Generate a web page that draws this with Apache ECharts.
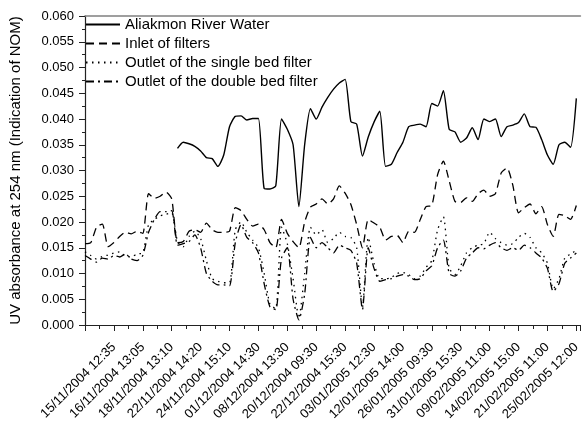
<!DOCTYPE html>
<html>
<head>
<meta charset="utf-8">
<script src="https://cdn.jsdelivr.net/npm/echarts@6/dist/echarts.min.js"></script>
<style>
html,body{margin:0;padding:0;background:#fff;}
#chart{width:583px;height:424px;}
</style>
</head>
<body>
<div id="chart"></div>
<script>
// Tick labels (one every 5 samples)
const xLabels = ["15/11/2004 12:35","16/11/2004 13:05","18/11/2004 13:10","22/11/2004 14:20","24/11/2004 15:10","01/12/2004 14:30","08/12/2004 13:30","20/12/2004 09:30","22/12/2004 15:30","03/01/2005 12:30","12/01/2005 14:00","26/01/2005 09:30","31/01/2005 15:30","09/02/2005 11:00","14/02/2005 15:00","21/02/2005 11:00","25/02/2005 12:00"];
const samplesPerLabel = 5;
const seriesNames = ["Aliakmon River Water","Inlet of filters","Outlet of the single bed filter","Outlet of the double bed filter"];

const riverWater = [null,null,null,null,null,null,null,null,null,null,null,null,null,null,null,null,
0.0343,0.0355,0.0352,0.0347,0.0338,0.0325,0.0323,0.0308,0.0330,0.0385,
0.0405,0.0406,0.0398,0.0401,0.0401,0.0265,0.0264,0.0270,0.0400,0.0380,
0.0350,0.0230,0.0350,0.0420,0.0400,0.0423,0.0442,0.0458,0.0470,0.0477,
0.0395,0.0390,0.0328,0.0365,0.0394,0.0415,0.0308,0.0312,0.0335,0.0355,
0.0385,0.0388,0.0390,0.0385,0.0430,0.0425,0.0455,0.0380,0.0375,0.0355,
0.0363,0.0383,0.0360,0.0400,0.0395,0.0400,0.0366,0.0385,0.0388,0.0393,
0.0410,0.0385,0.0384,0.0360,0.0330,0.0312,0.0350,0.0355,0.0345,0.0440];

const inletFilters = [0.0158,0.0160,0.0190,0.0196,0.0152,0.0160,0.0172,0.0180,0.0177,0.0182,
0.0178,0.0255,0.0246,0.0250,0.0258,0.0245,0.0160,0.0162,0.0182,0.0185,
0.0180,0.0198,0.0185,0.0180,0.0180,0.0182,0.0228,0.0222,0.0205,0.0192,
0.0196,0.0185,0.0160,0.0150,0.0205,0.0178,0.0162,0.0150,0.0200,0.0229,
0.0235,0.0245,0.0235,0.0245,0.0270,0.0256,0.0234,0.0195,0.0150,0.0205,
0.0198,0.0190,0.0165,0.0172,0.0174,0.0160,0.0182,0.0180,0.0205,0.0230,
0.0232,0.0292,0.0318,0.0280,0.0240,0.0238,0.0247,0.0240,0.0255,0.0262,
0.0250,0.0255,0.0295,0.0305,0.0272,0.0218,0.0228,0.0235,0.0216,0.0230,
0.0195,0.0172,0.0215,0.0212,0.0205,0.0232];

const singleBedOutlet = [0.0142,0.0135,0.0128,0.0133,0.0136,0.0140,0.0142,0.0134,0.0132,0.0138,
0.0140,0.0195,0.0205,0.0212,0.0215,0.0218,0.0162,0.0152,0.0172,0.0182,
0.0168,0.0125,0.0090,0.0085,0.0082,0.0082,0.0185,0.0200,0.0180,0.0165,
0.0150,0.0100,0.0040,0.0032,0.0190,0.0158,0.0090,0.0013,0.0100,0.0190,
0.0175,0.0185,0.0160,0.0168,0.0180,0.0172,0.0170,0.0150,0.0035,0.0170,
0.0120,0.0090,0.0090,0.0092,0.0100,0.0102,0.0098,0.0090,0.0095,0.0112,
0.0125,0.0185,0.0210,0.0110,0.0098,0.0115,0.0140,0.0150,0.0155,0.0158,
0.0180,0.0168,0.0160,0.0155,0.0158,0.0170,0.0178,0.0170,0.0150,0.0140,
0.0120,0.0070,0.0090,0.0130,0.0138,0.0145];

const doubleBedOutlet = [0.0135,0.0128,0.0122,0.0130,0.0128,0.0135,0.0132,0.0138,0.0128,0.0125,
0.0135,0.0180,0.0205,0.0220,0.0220,0.0222,0.0155,0.0158,0.0162,0.0175,
0.0150,0.0100,0.0085,0.0078,0.0078,0.0076,0.0160,0.0195,0.0170,0.0160,
0.0140,0.0080,0.0035,0.0030,0.0130,0.0150,0.0050,0.0010,0.0060,0.0170,
0.0150,0.0160,0.0150,0.0140,0.0155,0.0150,0.0145,0.0120,0.0030,0.0150,
0.0110,0.0085,0.0088,0.0090,0.0095,0.0098,0.0095,0.0088,0.0090,0.0105,
0.0115,0.0150,0.0165,0.0100,0.0095,0.0105,0.0130,0.0140,0.0150,0.0148,
0.0155,0.0160,0.0150,0.0145,0.0150,0.0145,0.0155,0.0150,0.0140,0.0130,
0.0110,0.0065,0.0080,0.0120,0.0130,0.0140];

const yTicks = {min:0, max:0.06, interval:0.005};

function toPairs(arr){ return arr.map((v,i)=>[i/samplesPerLabel, v]); }

const FONT = "'Liberation Sans', Arial, sans-serif";
const chart = echarts.init(document.getElementById('chart'), null, {renderer:'canvas'});
const lineStyles = [
  {type:'solid', width:1.4},
  {type:[8,5], width:1.3},
  {type:[1.5,4.5], width:1.3},
  {type:[8,4,2,4], width:1.3}
];
const allData = [riverWater, inletFilters, singleBedOutlet, doubleBedOutlet];

chart.setOption({
  animation:false,
  backgroundColor:'#fff',
  grid:{left:79, right:0, top:16, bottom:99, show:false},
  legend:{
    orient:'vertical', left:85, top:17, padding:0,
    itemWidth:34, itemHeight:12, itemGap:4,
    itemStyle:{color:'rgba(0,0,0,0)', borderColor:'rgba(0,0,0,0)', borderWidth:0, opacity:0},
    textStyle:{fontFamily:FONT, fontSize:15, color:'#000'},
    data:seriesNames
  },
  xAxis:[{
    type:'value', min:0, max:17.14, interval:1,
    axisLine:{show:true, onZero:false, lineStyle:{color:'#222', width:1.2}},
    axisTick:{show:true, length:6, inside:false, lineStyle:{color:'#222', width:1}},
    minorTick:{show:true, splitNumber:2, length:4, lineStyle:{color:'#222', width:1}},
    splitLine:{show:false},
    axisLabel:{
      show:true, rotate:45, margin:20, fontSize:13, fontFamily:FONT, color:'#000',
      showMinLabel:true, showMaxLabel:true, hideOverlap:false,
      formatter:function(v){ const k=Math.round(v); return (Math.abs(v-k)<1e-6 && k>=1 && k<=xLabels.length) ? xLabels[k-1] : ''; }
    }
  },{
    type:'value', position:'top', min:0, max:17.14,
    axisLine:{show:true, onZero:false, lineStyle:{color:'#808080', width:1.6}},
    axisTick:{show:false}, axisLabel:{show:false}, splitLine:{show:false}
  }],
  yAxis:{
    type:'value', min:yTicks.min, max:yTicks.max, interval:yTicks.interval,
    name:'UV absorbance at 254 nm (Indication of NOM)',
    nameLocation:'middle', nameGap:62,
    nameTextStyle:{fontFamily:FONT, fontSize:15, color:'#000'},
    axisLine:{show:true, lineStyle:{color:'#222', width:1.2}},
    axisTick:{show:true, length:6, lineStyle:{color:'#222', width:1}},
    minorTick:{show:true, splitNumber:2, length:3, lineStyle:{color:'#222', width:1}},
    splitLine:{show:false},
    axisLabel:{fontFamily:FONT, fontSize:13, color:'#000', margin:11,
      formatter:function(v){ return v.toFixed(3); }}
  },
  series: allData.map((arr,idx)=>({
    name:seriesNames[idx], type:'line', data:toPairs(arr),
    symbol:'none', showSymbol:false, smooth:0.2, connectNulls:false,
    lineStyle:Object.assign({color:'#000'}, lineStyles[idx]),
    itemStyle:{color:'#000'}
  }))
});
</script>
</body>
</html>
